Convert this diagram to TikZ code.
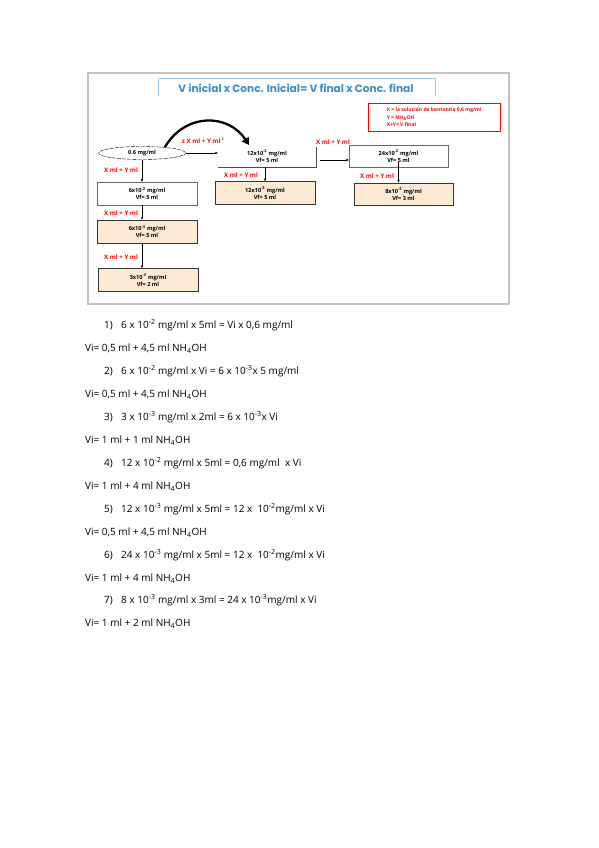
\documentclass[tikz,border=0pt]{standalone}
\usepackage{fontspec}
\setmainfont{Open Sans}
\newfontfamily\titlefont{Poppins}
\usetikzlibrary{arrows.meta,shapes.geometric}

\definecolor{peach}{RGB}{252,234,212}
\definecolor{titleblue}{RGB}{62,140,200}
\definecolor{titleline}{RGB}{150,205,238}
\definecolor{framegray}{RGB}{196,196,196}

\newcommand{\tenp}[1]{10\textsuperscript{#1}}

\begin{document}
\begin{tikzpicture}[x=1pt,y=-1pt,
    conc/.style={draw=black!60,minimum width=100pt,minimum height=23pt,inner sep=1pt,
      align=center,font=\fontsize{5.6}{7}\selectfont\bfseries},
    concfill/.style={conc,fill=peach,draw=black!80,semithick},
    lbl/.style={text=red,font=\fontsize{6.2}{7}\selectfont\bfseries,inner sep=0pt},
    flow/.style={-{Stealth[length=3pt,width=2.5pt]},thin},
    line/.style={anchor=base west,inner sep=0pt,font=\fontsize{10}{12}\selectfont}]
  \useasboundingbox (0,0) rectangle (599,848);
  \fill[white] (0,0) rectangle (599,848);

  % frame and title
  \draw[framegray,line width=1.5pt] (88,73) rectangle (509,304);
  \draw[titleline,semithick] (158,96) -- (158,78) -- (435,78) -- (435,96);
  \node[text=titleblue,font=\titlefont\bfseries\fontsize{10.6}{12}\selectfont] (title) at (296,88)
    {V inicial x Conc. Inicial= V final x Conc. final};
  \node[draw=red,text=red,anchor=north west,align=left,minimum width=132pt,minimum height=28pt,
    inner sep=2.5pt,font=\fontsize{5}{7.3}\selectfont\bfseries] (legend) at (368,103)
    {X = la solución de bentonita 0,6 mg/ml\\Y = NH\textsubscript{4}OH\\X+Y= V final};

  % stock solution and dilutions
  \node[ellipse,draw,dash pattern=on 4pt off 1.2pt,minimum width=87pt,minimum height=13pt,inner sep=0pt,
    font=\fontsize{5.6}{7}\selectfont\bfseries] (stock) at (142,153) {0.6 mg/ml};
  \node[conc] (b1) at (147,193.5) {6x\tenp{-2} mg/ml\\Vf= 5 ml};
  \node[concfill] (b2) at (147,231.5) {6x\tenp{-3} mg/ml\\Vf= 5 ml};
  \node[concfill] (b3) at (148,280) {3x\tenp{-3} mg/ml\\Vf= 2 ml};
  \node[conc,draw=none,minimum width=98pt,minimum height=22pt] (mid) at (267,156)
    {12x\tenp{-2} mg/ml\\Vf= 5 ml};
  \node[concfill] (m2) at (265,193) {12x\tenp{-3} mg/ml\\Vf= 5 ml};
  \node[conc,minimum width=99pt,minimum height=22pt] (r1) at (398.5,156)
    {24x\tenp{-2} mg/ml\\Vf= 5 ml};
  \node[concfill,minimum width=99pt,minimum height=22pt] (r2) at (403.5,194)
    {8x\tenp{-3} mg/ml\\Vf= 3 ml};
  \draw[black!70] (mid.south west) -- (mid.south east) -- ([yshift=-2pt]mid.north east);

  % arrows
  \coordinate (arcA) at (165,147);
  \coordinate (arcB) at (249,145);
  \draw[line width=2.3pt,-{Triangle[length=7pt,width=8pt]}] (arcA) .. controls (185,113) and (228,113) .. (arcB);
  \draw[flow] (stock.east) -- (stock.east -| mid.west);
  \draw[flow] (stock.south) -- (stock.south |- b1.north);
  \draw[flow] (stock.south |- b1.south) -- (stock.south |- b2.north);
  \draw[flow] (stock.south |- b2.south) -- (stock.south |- b3.north);
  \draw[flow] (m2.north |- mid.south) -- (m2.north);
  \draw[flow] ([xshift=4pt,yshift=-4pt]mid.east) -- ([yshift=-4pt]r1.west);
  \draw[flow] ([yshift=5pt]r1.south) -- (r1.south |- r2.north);

  % labels
  \node[lbl] (l0) at (203,141) {z X ml + Y ml\,\textsuperscript{z}};
  \node[lbl] (l1) at (121,170) {X ml + Y ml};
  \node[lbl] (l2) at (121,213) {X ml + Y ml};
  \node[lbl] (l3) at (121,257) {X ml + Y ml};
  \node[lbl] (l4) at (241,175) {X ml + Y ml};
  \node[lbl] (l5) at (333,142) {X ml + Y ml};
  \node[lbl] (l6) at (377,176) {X ml + Y ml};

  % calculations
  \node[line] (n1) at (104,328.5) {1)};
  \node[line] (eq1) at (121,328.5) {6 x \tenp{-2} mg/ml x 5ml = Vi x 0,6 mg/ml};
  \node[line] (vi1) at (85,351.5) {Vi= 0,5 ml + 4,5 ml NH\textsubscript{4}OH};
  \node[line] (n2) at (104,374.5) {2)};
  \node[line] (eq2) at (121,374.5) {6 x \tenp{-2} mg/ml x Vi = 6 x \tenp{-3}x 5 mg/ml};
  \node[line] (vi2) at (85,397.5) {Vi= 0,5 ml + 4,5 ml NH\textsubscript{4}OH};
  \node[line] (n3) at (104,420.5) {3)};
  \node[line] (eq3) at (121,420.5) {3 x \tenp{-3} mg/ml x 2ml = 6 x \tenp{-3}x Vi};
  \node[line] (vi3) at (85,443.5) {Vi= 1 ml + 1 ml NH\textsubscript{4}OH};
  \node[line] (n4) at (104,466.5) {4)};
  \node[line] (eq4) at (121,466.5) {12 x \tenp{-2} mg/ml x 5ml = 0,6 mg/ml\ \ x Vi};
  \node[line] (vi4) at (85,489.5) {Vi= 1 ml + 4 ml NH\textsubscript{4}OH};
  \node[line] (n5) at (104,512.5) {5)};
  \node[line] (eq5) at (121,512.5) {12 x \tenp{-3} mg/ml x 5ml = 12 x \ \tenp{-2}mg/ml x Vi};
  \node[line] (vi5) at (85,535.5) {Vi= 0,5 ml + 4,5 ml NH\textsubscript{4}OH};
  \node[line] (n6) at (104,558.5) {6)};
  \node[line] (eq6) at (121,558.5) {24 x \tenp{-3} mg/ml x 5ml = 12 x \ \tenp{-2}mg/ml x Vi};
  \node[line] (vi6) at (85,581.5) {Vi= 1 ml + 4 ml NH\textsubscript{4}OH};
  \node[line] (n7) at (104,603.5) {7)};
  \node[line] (eq7) at (121,603.5) {8 x \tenp{-3} mg/ml x 3ml = 24 x \tenp{-3}mg/ml x Vi};
  \node[line] (vi7) at (85,626.5) {Vi= 1 ml + 2 ml NH\textsubscript{4}OH};
\end{tikzpicture}
\end{document}
